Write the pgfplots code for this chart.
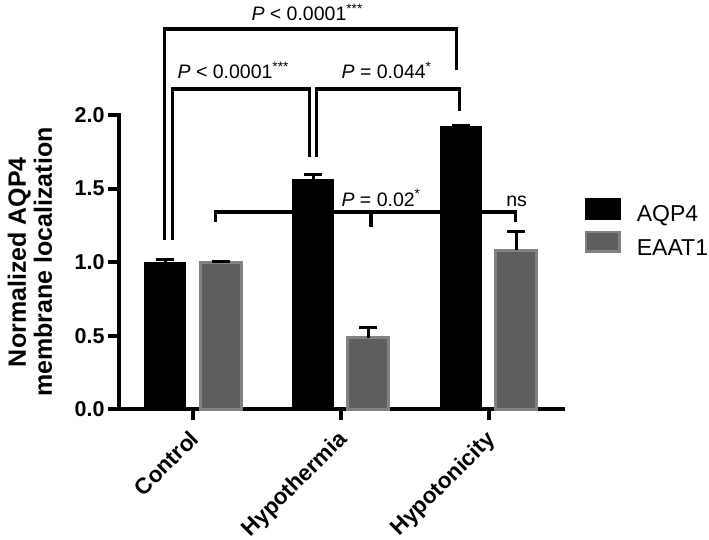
\documentclass[border=0pt]{standalone}
\usepackage{fontspec}
\setmainfont{Liberation Sans}
\usepackage{pgfplots}
\pgfplotsset{compat=1.18}
\definecolor{eaatfill}{HTML}{5E5E5E}
\definecolor{eaatdraw}{HTML}{828282}
\pgfplotsset{
  boxlegend/.style={legend image code/.code={\draw[##1, line width=2.5pt] (1.25pt,-2.5pt) rectangle (34.75pt,17pt);}},
}
\begin{document}
\begin{tikzpicture}[x=1pt,y=1pt]
\useasboundingbox (0,0) rectangle (709,540);
\begin{axis}[
  at={(119pt,130.7pt)}, anchor=south west,
  scale only axis, width=443.5pt, height=294.3pt,
  xmin=-0.5, xmax=2.5, ymin=0, ymax=2,
  clip=false,
  axis x line=bottom, axis y line=left,
  axis line style={line width=4pt, -, line cap=rect},
  tick align=outside, major tick length=11pt,
  every tick/.style={black, line width=4pt},
  xtick={0,1,2}, xticklabels={Control,Hypothermia,Hypotonicity},
  ytick={0,0.5,1,1.5,2}, yticklabels={0.0,0.5,1.0,1.5,2.0},
  xticklabel style={rotate=45, anchor=north east, inner sep=3pt, xshift=-6pt, font=\bfseries\fontsize{22.5}{22.5}\selectfont},
  yticklabel style={font=\bfseries\fontsize{21.5}{21.5}\selectfont},
  every axis y label/.style={at={(axis description cs:-0.2007,0.5)}, anchor=center, rotate=90, align=center, font=\bfseries\fontsize{25}{26}\selectfont},
  ylabel={Normalized AQP4\\membrane localization},
  legend style={at={(axis description cs:1.05,0.72)}, anchor=north west, draw=none, fill=none, inner sep=0pt, row sep=0pt, column sep=16pt,
    nodes={inner xsep=0pt, inner ysep=5pt, text height=16pt, text depth=4pt, font=\fontsize{23}{23}\selectfont}},
  legend cell align=left,
]
\addplot[ybar, bar width=0.278, bar shift=0, fill=black, draw=black, line width=1pt, boxlegend,
  error bars/.cd, y dir=plus, y explicit, error bar style={line width=3pt, black},
  error mark options={rotate=90, mark size=9pt, line width=3pt, black}]
  coordinates {(-0.187,1.00) +- (0,0.02) (0.813,1.56) +- (0,0.035) (1.813,1.92) +- (0,0.01)};
\addlegendentry{AQP4}
\addplot[ybar, bar width=0.278, bar shift=0, fill=eaatfill, draw=eaatdraw, line width=3pt, boxlegend,
  error bars/.cd, y dir=plus, y explicit, error bar style={line width=3pt, black},
  error mark options={rotate=90, mark size=9pt, line width=3pt, black}]
  coordinates {(0.187,1.00) +- (0,0.005) (1.187,0.485) +- (0,0.07) (2.187,1.08) +- (0,0.125)};
\addlegendentry{EAAT1}
% significance brackets
\addplot[black, line width=3.5pt, line join=miter, mark=none, forget plot] coordinates {(-0.193,1.15) (-0.193,2.585) (1.784,2.585) (1.784,2.306)};
\addplot[black, line width=3.5pt, line join=miter, mark=none, forget plot] coordinates {(-0.137,1.15) (-0.137,2.175) (0.790,2.175) (0.790,1.716)};
\addplot[black, line width=3.5pt, line join=miter, mark=none, forget plot] coordinates {(0.835,1.716) (0.835,2.175) (1.802,2.175) (1.802,2.027)};
\addplot[black, line width=3.5pt, line join=miter, mark=none, forget plot] coordinates {(0.153,1.274) (0.153,1.342) (2.183,1.342) (2.183,1.274)};
\addplot[black, line width=3.5pt, mark=none, forget plot] coordinates {(1.203,1.342) (1.203,1.238)};
\node[anchor=base west, inner sep=0pt, font=\fontsize{19.5}{19.5}\selectfont] at (axis cs:0.395,2.641) {\textit{P} < 0.0001\textsuperscript{***}};
\node[anchor=base west, inner sep=0pt, font=\fontsize{19.5}{19.5}\selectfont] at (axis cs:-0.105,2.245) {\textit{P} < 0.0001\textsuperscript{***}};
\node[anchor=base west, inner sep=0pt, font=\fontsize{19.5}{19.5}\selectfont] at (axis cs:1.005,2.245) {\textit{P} = 0.044\textsuperscript{*}};
\node[anchor=base west, inner sep=0pt, font=\fontsize{19.5}{19.5}\selectfont] at (axis cs:1.004,1.381) {\textit{P} = 0.02\textsuperscript{*}};
\node[anchor=base, inner sep=0pt, font=\fontsize{19.5}{19.5}\selectfont] at (axis cs:2.19,1.381) {ns};
\end{axis}
\end{tikzpicture}
\end{document}
